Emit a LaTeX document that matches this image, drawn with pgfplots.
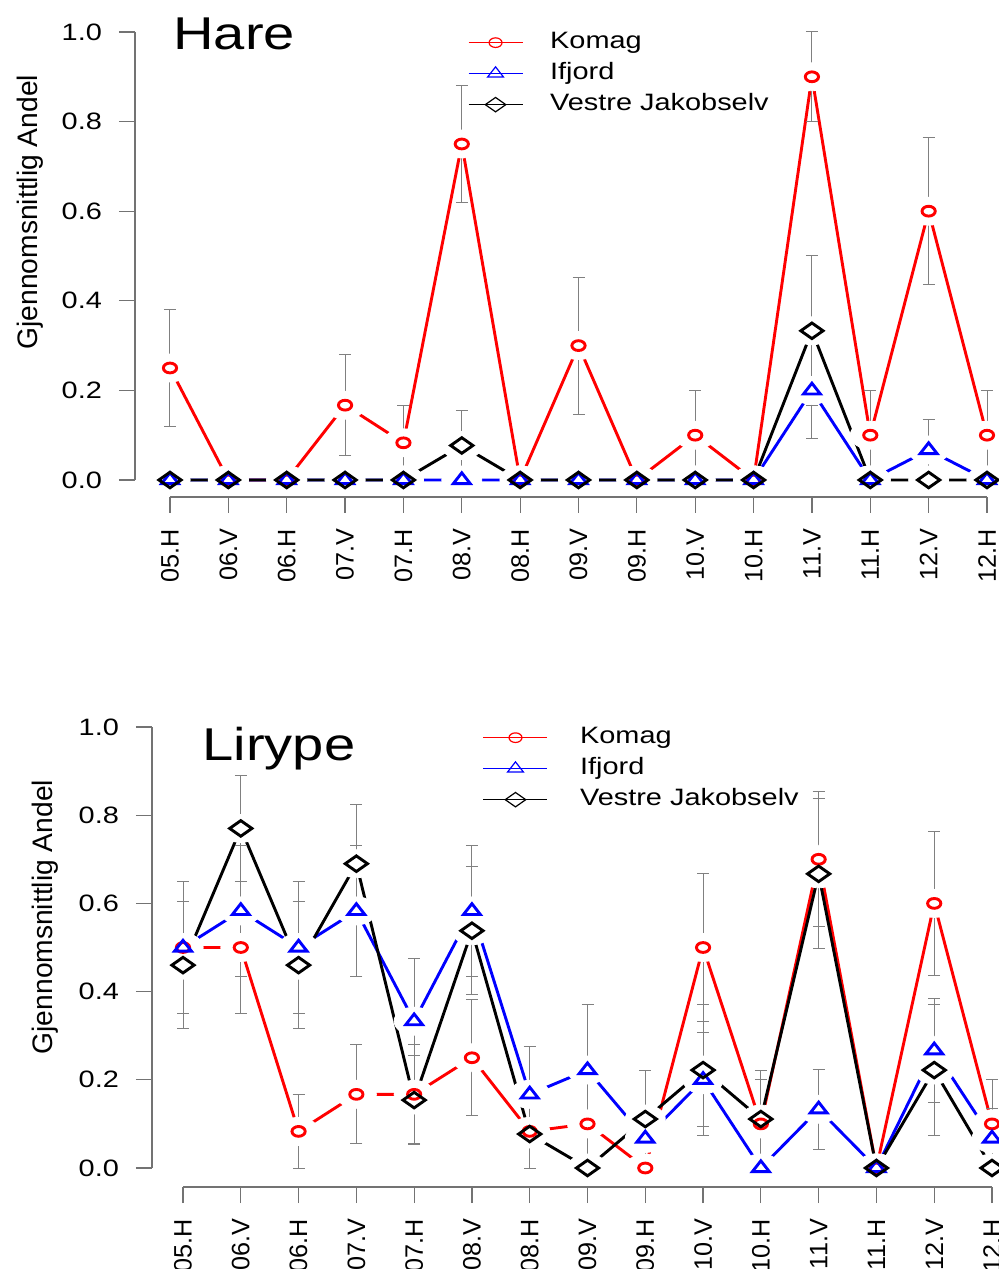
\documentclass[border=0pt]{standalone}
\usepackage{fontspec}
\setmainfont{Liberation Sans}[FakeStretch=1.22]
\newfontfamily\rotfont{Liberation Sans}
\usepackage{pgfplots}
\usepackage{pgfplotstable}
\pgfplotsset{compat=1.18}
\definecolor{axgray}{gray}{0.45}
\definecolor{ebgray}{gray}{0.5}

\pgfplotstableread{
x k i v
0 0.25 0 0
1 0 0 0
2 0 0 0
3 0.167 0 0
4 0.083 0 0
5 0.75 0 0.077
6 0 0 0
7 0.3 0 0
8 0 0 0
9 0.1 0 0
10 0 0 0
11 0.9 0.2 0.333
12 0.1 0 0
13 0.6 0.067 0
14 0.1 0 0
}\hare
\pgfplotstableread{
x y e
0 0.25 0.13
3 0.167 0.112
4 0.083 0.083
5 0.75 0.13
7 0.3 0.153
9 0.1 0.1
11 0.9 0.1
12 0.1 0.1
13 0.6 0.164
14 0.1 0.1
}\hareKe
\pgfplotstableread{
x y e
11 0.2 0.107
13 0.067 0.067
}\hareIe
\pgfplotstableread{
x y e
5 0.077 0.077
11 0.333 0.167
}\hareVe

\pgfplotstableread{
x k i v
0 0.5 0.5 0.46
1 0.5 0.583 0.77
2 0.083 0.5 0.46
3 0.167 0.583 0.69
4 0.167 0.333 0.154
5 0.25 0.583 0.538
6 0.083 0.167 0.077
7 0.1 0.222 0
8 0 0.067 0.111
9 0.5 0.2 0.222
10 0.1 0 0.111
11 0.7 0.133 0.667
12 0 0 0
13 0.6 0.267 0.222
14 0.1 0.067 0
}\lir
\pgfplotstableread{
x y e
0 0.5 0.15
1 0.5 0.15
2 0.083 0.083
3 0.167 0.112
4 0.167 0.112
5 0.25 0.131
6 0.083 0.083
7 0.1 0.1
9 0.5 0.167
10 0.1 0.1
11 0.7 0.153
13 0.6 0.164
14 0.1 0.1
}\lirKe
\pgfplotstableread{
x y e
0 0.5 0.15
1 0.583 0.149
2 0.5 0.15
3 0.583 0.149
4 0.333 0.142
5 0.583 0.149
6 0.167 0.108
7 0.222 0.148
8 0.067 0.067
9 0.2 0.107
11 0.133 0.09
13 0.267 0.118
14 0.067 0.067
}\lirIe
\pgfplotstableread{
x y e
0 0.46 0.144
1 0.77 0.12
2 0.46 0.144
3 0.69 0.135
4 0.154 0.1
5 0.538 0.145
6 0.077 0.077
8 0.111 0.111
9 0.222 0.148
10 0.111 0.111
11 0.667 0.17
13 0.222 0.148
}\lirVe

\pgfplotsset{
  rstyle/.style={
    scale only axis, clip=false,
    xmin=0, xmax=14, ymin=0, ymax=1,
    axis lines=left,
    axis line style={-, draw=axgray, line width=0.6pt},
    tick align=outside,
    major tick length=8pt,
    tick style={draw=axgray, line width=0.6pt},
    xtick={0,...,14},
    xticklabels={05.H,06.V,06.H,07.V,07.H,08.V,08.H,09.V,09.H,10.V,10.H,11.V,11.H,12.V,12.H},
    ytick={0,0.2,0.4,0.6,0.8,1},
    yticklabels={0.0,0.2,0.4,0.6,0.8,1.0},
    xticklabel shift=4.5pt,
    yticklabel shift=5pt,
    x tick label style={rotate=90, anchor=east, font=\rotfont\fontsize{12.6}{14}\selectfont},
    y tick label style={font=\fontsize{11.85}{14}\selectfont},
    ylabel={Gjennomsnittlig Andel},
    legend cell align=left,
    legend style={draw=none, fill=none, inner sep=0pt, outer sep=0pt,
      font=\fontsize{11.85}{14}\selectfont,
      nodes={inner sep=0pt, text height=9pt, text depth=3pt},
      row sep=3.5pt},
  },
  halo/.style={only marks, mark=*, mark size=7pt, mark options={xscale=1.43, draw=white, fill=white}, forget plot},
  ebar/.style={draw=none, mark=none, forget plot, error bars/.cd, y dir=both, y explicit,
     error bar style={draw=ebgray, line width=0.5pt, solid},
     error mark options={rotate=90, draw=ebgray, line width=0.5pt, mark size=3pt}},
  kline/.style={draw=red, line width=1.45pt, mark=none, forget plot},
  iline/.style={draw=blue, line width=1.45pt, mark=none, forget plot},
  vline/.style={draw=black, line width=1.45pt, mark=none, forget plot},
  kmark/.style={only marks, mark=o, mark size=2.45pt, mark options={draw=red, xscale=1.35, line width=1.45pt, solid}, forget plot},
  imark/.style={only marks, mark=triangle, mark size=3.6pt, mark options={draw=blue, xscale=1.35, line width=1.45pt, solid}, forget plot},
  vmark/.style={only marks, mark=diamond, mark size=3.9pt, mark options={draw=black, xscale=1.9, line width=1.45pt, solid}, forget plot},
}

\begin{document}
\begin{tikzpicture}
\useasboundingbox (0,0) rectangle (499.5pt,634.5pt);
\clip (0,0) rectangle (499.5pt,634.5pt);

% ---------- Hare ----------
\begin{axis}[rstyle,
  at={(85pt,394.5pt)}, anchor=south west,
  width=408.5pt, height=224pt,
  axis x line shift=8.5pt, axis y line shift=17.5pt,
  ylabel style={at={(rel axis cs:-0.1714,0.598)}, anchor=center, font=\rotfont\fontsize{14.1}{16}\selectfont},
  legend image code/.code={\draw[mark repeat=2, mark phase=2, #1] plot coordinates {(0pt,0pt) (13.5pt,0pt) (27pt,0pt)};},
  legend style={at={(axis description cs:0.3647,1.003)}, anchor=north west,
     /tikz/every odd column/.style={column sep=13.5pt}},
]
\addplot[kline] table[x=x,y=k] {\hare};
\addplot[iline] table[x=x,y=i] {\hare};
\addplot[vline] table[x=x,y=v] {\hare};
\addplot[halo] table[x=x,y=k] {\hare};
\addplot[halo] table[x=x,y=i] {\hare};
\addplot[halo] table[x=x,y=v] {\hare};
\addplot[ebar] table[x=x,y=y,y error=e] {\hareKe};
\addplot[ebar] table[x=x,y=y,y error=e] {\hareIe};
\addplot[ebar] table[x=x,y=y,y error=e] {\hareVe};
\addplot[kmark] table[x=x,y=k] {\hare};
\addplot[imark] table[x=x,y=i] {\hare};
\addplot[vmark] table[x=x,y=v] {\hare};
\addlegendimage{draw=red, line width=0.6pt, mark=o, mark size=2.4pt, mark options={xscale=1.35, solid}}
\addlegendentry{Komag}
\addlegendimage{draw=blue, line width=0.6pt, mark=triangle, mark size=3.4pt, mark options={xscale=1.35, solid}}
\addlegendentry{Ifjord}
\addlegendimage{draw=black, line width=0.6pt, mark=diamond, mark size=3.6pt, mark options={xscale=1.9, solid}}
\addlegendentry{Vestre Jakobselv}
\node[anchor=base west, inner sep=0pt, font=\fontsize{23}{26}\selectfont] at (axis cs:0.05,0.96) {Hare};
\end{axis}

% ---------- Lirype ----------
\begin{axis}[rstyle,
  at={(91.5pt,50.5pt)}, anchor=south west,
  width=404.5pt, height=220.5pt,
  axis x line shift=9.5pt, axis y line shift=15.5pt,
  ylabel style={at={(rel axis cs:-0.1707,0.569)}, anchor=center, font=\rotfont\fontsize{14.1}{16}\selectfont},
  legend image code/.code={\draw[mark repeat=2, mark phase=2, #1] plot coordinates {(0pt,0pt) (16pt,0pt) (32pt,0pt)};},
  legend style={at={(axis description cs:0.3707,1.003)}, anchor=north west,
     /tikz/every odd column/.style={column sep=16pt}},
]
\addplot[kline] table[x=x,y=k] {\lir};
\addplot[iline] table[x=x,y=i] {\lir};
\addplot[vline] table[x=x,y=v] {\lir};
\addplot[halo] table[x=x,y=k] {\lir};
\addplot[halo] table[x=x,y=i] {\lir};
\addplot[halo] table[x=x,y=v] {\lir};
\addplot[ebar] table[x=x,y=y,y error=e] {\lirKe};
\addplot[ebar] table[x=x,y=y,y error=e] {\lirIe};
\addplot[ebar] table[x=x,y=y,y error=e] {\lirVe};
\addplot[kmark] table[x=x,y=k] {\lir};
\addplot[imark] table[x=x,y=i] {\lir};
\addplot[vmark] table[x=x,y=v] {\lir};
\addlegendimage{draw=red, line width=0.6pt, mark=o, mark size=2.4pt, mark options={xscale=1.35, solid}}
\addlegendentry{Komag}
\addlegendimage{draw=blue, line width=0.6pt, mark=triangle, mark size=3.4pt, mark options={xscale=1.35, solid}}
\addlegendentry{Ifjord}
\addlegendimage{draw=black, line width=0.6pt, mark=diamond, mark size=3.6pt, mark options={xscale=1.9, solid}}
\addlegendentry{Vestre Jakobselv}
\node[anchor=base west, inner sep=0pt, font=\fontsize{23}{26}\selectfont] at (axis cs:0.33,0.925) {Lirype};
\end{axis}
\end{tikzpicture}
\end{document}
